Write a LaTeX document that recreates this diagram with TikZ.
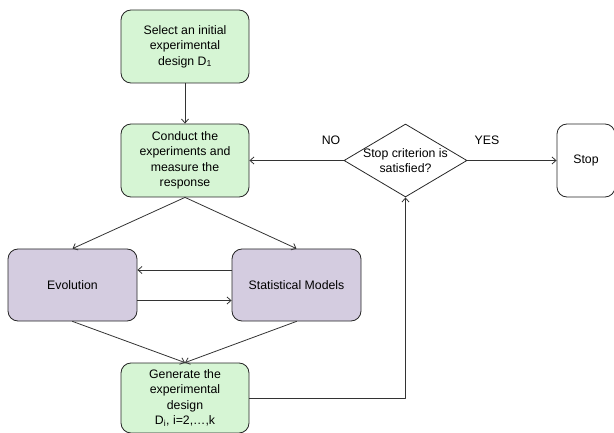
\documentclass[tikz,border=0pt]{standalone}
\usepackage{fontspec}
\setmainfont{Liberation Sans}
\usetikzlibrary{shapes.geometric,arrows.meta}
\definecolor{stepgreen}{RGB}{214,245,212}
\definecolor{modelpurple}{RGB}{212,204,224}
\begin{document}
\begin{tikzpicture}[x=1pt,y=-1pt,line width=0.8pt,line cap=round,line join=round,
  font=\fontsize{12.3}{15.5}\selectfont,
  flow/.style={draw=black!80,-{Straight Barb[length=4pt,width=7pt]}},
  greenbox/.style={draw=black!85,fill=stepgreen,rounded corners=10pt,minimum width=128pt,minimum height=73pt,align=center,inner sep=2pt},
  purplebox/.style={draw=black!85,fill=modelpurple,rounded corners=10pt,minimum width=129pt,minimum height=72pt,align=center},
  decision/.style={draw=black!85,diamond,minimum width=123pt,minimum height=73pt,inner sep=0pt}]
\path[use as bounding box] (0,0) rectangle (614,433);
% Initial design and the experiment box.
\node[greenbox] (init) at (185,46.5) {Select an initial\\experimental\\design D\textsubscript{1}};
\node[greenbox] (cond) at (185,160.5) {Conduct the\\experiments and\\measure the\\response};
\draw[flow] (init) -- (cond);
% Stop test.
\node[decision] (stopq) at (405.5,160.5) {};
\node[align=center] (stopqtext) at (stopq) {Stop criterion is\\[-1pt]satisfied?};
\node[draw=black!85,rounded corners=10pt,minimum width=58pt,minimum height=73pt] (stop) at (586,160.5) {Stop};
\draw[flow] (stopq.east) -- (stop.west);
\draw[flow] (stopq.west) -- (cond.east);
\node (yes) at (487,140) {YES};
\node (no) at (331,140) {NO};
% Evolution and the models.
\node[purplebox] (evo) at (72.5,285) {Evolution};
\node[purplebox] (stat) at (296.5,285) {Statistical Models};
\draw[flow] (cond.south) -- (evo.north);
\draw[flow] (cond.south) -- (stat.north);
\draw[flow] (stat.west |- 0,270) -- (evo.east |- 0,270);
\draw[flow] (evo.east |- 0,300.5) -- (stat.west |- 0,300.5);
% Next design.
\node[greenbox,minimum height=70pt] (gen) at (185,398) {Generate the\\experimental\\design\\D\textsubscript{i}, i=2,\dots,k};
\draw[flow] (evo.south) -- (gen.north);
\draw[flow] (stat.south) -- (gen.north);
\draw[flow] (gen.east) -| (stopq.south);
\end{tikzpicture}
\end{document}
